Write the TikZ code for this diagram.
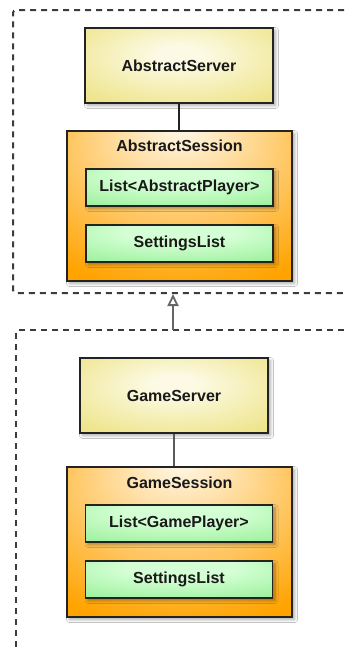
\documentclass[tikz,border=0pt]{standalone}
\usepackage{fontspec}
\setmainfont{Liberation Sans}
\usetikzlibrary{arrows.meta,shadows.blur}
\definecolor{yel}{RGB}{236,225,125}
\definecolor{yelc}{RGB}{252,250,228}
\definecolor{org}{RGB}{255,163,0}
\definecolor{orgc}{RGB}{255,243,220}
\definecolor{grn}{RGB}{140,236,140}
\definecolor{grnc}{RGB}{212,255,212}
\definecolor{edge}{RGB}{35,35,35}
\definecolor{dashc}{RGB}{60,60,60}
\pgfdeclareradialshading{yshade}{\pgfpoint{0bp}{8bp}}{color(0bp)=(yelc); color(6bp)=(yelc); color(40bp)=(yel); color(80bp)=(yel)}
\pgfdeclareradialshading{oshade}{\pgfpoint{0bp}{28bp}}{color(0bp)=(orgc); color(3bp)=(orgc); color(42bp)=(org); color(80bp)=(org)}
\pgfdeclareradialshading{gshade}{\pgfpoint{0bp}{20bp}}{color(0bp)=(grnc); color(15bp)=(grnc); color(50bp)=(grn); color(80bp)=(grn)}
\tikzset{
  txt/.style={font=\bfseries\fontsize{16}{19}\selectfont, text=black!90},
  boxbase/.style={draw=edge, line width=1.8pt, inner sep=0pt,
     blur shadow={shadow xshift=2.5pt, shadow yshift=-2.5pt, shadow blur radius=3pt, shadow blur steps=6, shadow opacity=35}},
  srv/.style={boxbase, txt, shading=yshade, minimum width=188pt, minimum height=75pt},
  ses/.style={boxbase, shading=oshade, minimum width=225pt, minimum height=150pt},
  lst/.style={boxbase, txt, shading=gshade, minimum width=187pt, minimum height=37pt},
  pkg/.style={draw=dashc, line width=2pt, dash pattern=on 6pt off 5pt, rounded corners=3pt},
  conn/.style={draw=edge, line width=1.8pt},
}
\begin{document}
\begin{tikzpicture}[x=1pt,y=-1pt]
\clip (0,0) rectangle (347,648);
\fill[white] (0,0) rectangle (347,648);
% packages
\draw[pkg] (355,10) -- (13,10) -- (13,293) -- (355,293);
\draw[pkg] (355,330) -- (16,330) -- (16,660);
% top
\node[srv] (aserver) at (179,65.5) {AbstractServer};
\node[ses] (asession) at (179.5,206) {};
\node[txt] (atitle) at (179.5,146) {AbstractSession};
\node[lst] (alist) at (179.5,187.5) {List<AbstractPlayer>};
\node[lst] (aset) at (179.5,243.5) {SettingsList};
\draw[conn] (aserver.south) -- (aserver.south |- asession.north);
% bottom
\node[srv] (gserver) at (174,395.5) {GameServer};
\node[ses] (gsession) at (179.5,542) {};
\node[txt] (gtitle) at (179.5,483) {GameSession};
\node[lst] (glist) at (179,523.5) {List<GamePlayer>};
\node[lst] (gset) at (179,579.5) {SettingsList};
\draw[conn, draw=black!65] (gserver.south) -- (gserver.south |- gsession.north);
% inheritance arrow
\coordinate (pkgtop) at (173,294);
\coordinate (pkgbot) at (173,330);
\draw[draw=black!60, line width=2pt, -{Triangle[open, length=12pt, width=11pt, line width=1.8pt]}] (pkgbot) -- (pkgtop);
\end{tikzpicture}
\end{document}
